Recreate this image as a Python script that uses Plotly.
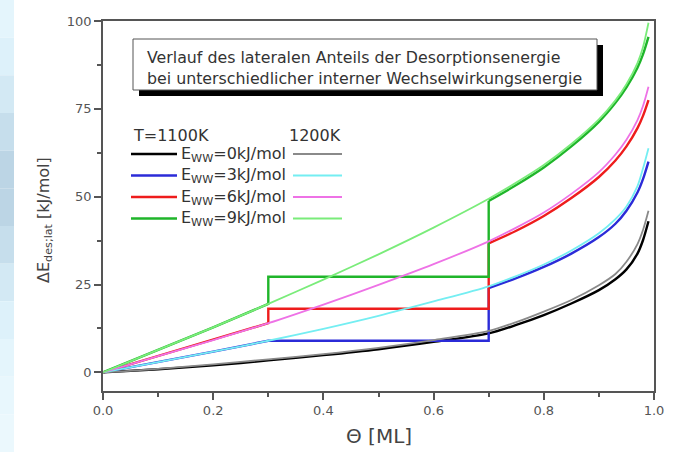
import plotly.graph_objects as go

# ---------------- data ----------------
theta_1200 = [0, 0.1, 0.2, 0.3, 0.4, 0.5, 0.6, 0.7, 0.75, 0.8, 0.85, 0.9, 0.93, 0.95, 0.97, 0.98, 0.99]
e0_1200 = [0, 1.0, 2.3, 3.7, 5.2, 7.0, 9.2, 11.8, 14.3, 17.3, 20.6, 24.8, 28.0, 31.5, 36.5, 40.5, 46.0]
e3_1200 = [0, 2.9, 5.9, 9.0, 12.4, 16.1, 20.2, 24.5, 27.4, 30.7, 34.7, 39.6, 43.6, 47.2, 53.0, 58.0, 63.8]
e6_1200 = [0, 4.6, 9.2, 14.0, 19.3, 24.9, 30.8, 37.3, 41.2, 45.5, 50.8, 57.0, 62.0, 66.2, 71.8, 75.8, 81.3]
e9_1200 = [0, 6.4, 12.8, 19.5, 26.4, 33.6, 41.2, 49.4, 54.0, 59.0, 65.0, 72.0, 77.4, 82.0, 88.0, 92.5, 99.5]

theta_0_1100 = [0, 0.1, 0.2, 0.3, 0.4, 0.5, 0.6, 0.7, 0.75, 0.8, 0.85, 0.9, 0.93, 0.95, 0.97, 0.98, 0.99]
e0_1100 = [0, 0.9, 2.0, 3.4, 4.9, 6.6, 8.7, 11.1, 13.5, 16.3, 19.6, 23.4, 26.5, 29.3, 33.8, 37.6, 43.0]

theta_3_1100 = [0, 0.1, 0.2, 0.3, 0.7, 0.7, 0.75, 0.8, 0.85, 0.9, 0.93, 0.95, 0.97, 0.98, 0.99]
e3_1100 = [0, 2.9, 5.9, 9.0, 9.0, 24.0, 26.8, 30.0, 33.8, 38.5, 42.3, 46.0, 51.2, 55.0, 60.0]

theta_6_1100 = [0, 0.1, 0.2, 0.3, 0.3, 0.7, 0.7, 0.75, 0.8, 0.85, 0.9, 0.93, 0.95, 0.97, 0.98, 0.99]
e6_1100 = [0, 4.6, 9.2, 14.0, 18.1, 18.1, 36.7, 40.3, 44.5, 49.6, 55.6, 60.3, 64.3, 69.5, 73.0, 77.5]

theta_9_1100 = [0, 0.1, 0.2, 0.3, 0.3, 0.7, 0.7, 0.75, 0.8, 0.85, 0.9, 0.93, 0.95, 0.97, 0.98, 0.99]
e9_1100 = [0, 6.4, 12.8, 19.5, 27.2, 27.2, 48.8, 53.3, 58.3, 64.3, 71.3, 76.7, 81.1, 86.7, 90.5, 95.5]

legend_labels = ["0", "3", "6", "9"]
x_ticks = [0.0, 0.2, 0.4, 0.6, 0.8, 1.0]
y_ticks = [0, 25, 50, 75, 100]

# ---------------- styles ----------------
FONT = "DejaVu Sans"
dark_cols = ["#000000", "#2b2bd8", "#ee1c1c", "#1fb52a"]
light_cols = ["#8a8a8a", "#74eef2", "#ee72e6", "#7aec7a"]

L, R, T, B = 103, 21, 21, 61
W, H = 675, 452
PW, PH = W - L - R, H - T - B


def px(x):
    return (x - L) / PW


def py(y):
    return (H - B - y) / PH


fig = go.Figure()

dark_series = [(theta_0_1100, e0_1100), (theta_3_1100, e3_1100),
               (theta_6_1100, e6_1100), (theta_9_1100, e9_1100)]
light_series = [e0_1200, e3_1200, e6_1200, e9_1200]

for (tx, ty), c in zip(dark_series, dark_cols):
    # index where the smooth tail begins (top of the last vertical step, if any)
    k = 0
    for i in range(1, len(tx)):
        if tx[i] == tx[i - 1]:
            k = i
    if k > 0:
        fig.add_trace(go.Scatter(x=tx[:k + 1], y=ty[:k + 1], mode="lines",
                                 line=dict(color=c, width=2.4), showlegend=False,
                                 hoverinfo="skip"))
    fig.add_trace(go.Scatter(x=tx[k:], y=ty[k:], mode="lines",
                             line=dict(color=c, width=2.4, shape="spline", smoothing=0.8),
                             showlegend=False, hoverinfo="skip"))
for ty, c in zip(light_series, light_cols):
    fig.add_trace(go.Scatter(x=theta_1200, y=ty, mode="lines",
                             line=dict(color=c, width=1.8, shape="spline", smoothing=0.8),
                             showlegend=False, hoverinfo="skip"))

shapes = []
annotations = []

# left decorative blue strip
strip_cols = ["#e4f5fc", "#ddf1fa", "#d3e9f4", "#c6deec", "#bcd5e5", "#bcd5e5",
              "#c6deec", "#d3e9f4", "#ddf1fa", "#e4f5fc", "#e8f7fd", "#ebf8fd"]
n = len(strip_cols)
for i, c in enumerate(strip_cols):
    shapes.append(dict(type="rect", xref="paper", yref="paper",
                       x0=px(0), x1=px(14), y0=py(i * H / n), y1=py((i + 1) * H / n),
                       fillcolor=c, line=dict(width=0), layer="below"))

# text box with shadow
shapes.append(dict(type="rect", xref="paper", yref="paper",
                   x0=px(139), x1=px(603), y0=py(96), y1=py(45),
                   fillcolor="#000000", line=dict(width=0)))
shapes.append(dict(type="rect", xref="paper", yref="paper",
                   x0=px(133), x1=px(597), y0=py(90), y1=py(39),
                   fillcolor="#ffffff", line=dict(color="#555555", width=1)))
annotations.append(dict(xref="paper", yref="paper", x=px(145), y=py(57),
                        xanchor="left", yanchor="middle", showarrow=False,
                        text="Verlauf des lateralen Anteils der Desorptionsenergie",
                        font=dict(family=FONT, size=15.8, color="#333333")))
annotations.append(dict(xref="paper", yref="paper", x=px(145), y=py(78),
                        xanchor="left", yanchor="middle", showarrow=False,
                        text="bei unterschiedlicher interner Wechselwirkungsenergie",
                        font=dict(family=FONT, size=15.8, color="#333333")))

# manual legend
annotations.append(dict(xref="paper", yref="paper", x=px(131), y=py(135),
                        xanchor="left", yanchor="middle", showarrow=False,
                        text="T=1100K", font=dict(family=FONT, size=16, color="#333333")))
annotations.append(dict(xref="paper", yref="paper", x=px(343), y=py(135),
                        xanchor="right", yanchor="middle", showarrow=False,
                        text="1200K", font=dict(family=FONT, size=16, color="#333333")))
row_y = [154, 175.5, 197, 218.5]
for lab, yy, dc, lc in zip(legend_labels, row_y, dark_cols, light_cols):
    shapes.append(dict(type="line", xref="paper", yref="paper",
                       x0=px(131), x1=px(177), y0=py(yy), y1=py(yy),
                       line=dict(color=dc, width=2.4)))
    shapes.append(dict(type="line", xref="paper", yref="paper",
                       x0=px(293), x1=px(342), y0=py(yy), y1=py(yy),
                       line=dict(color=lc, width=1.8)))
    annotations.append(dict(xref="paper", yref="paper", x=px(179), y=py(yy),
                            xanchor="left", yanchor="middle", showarrow=False,
                            text="E<sub>WW</sub>=" + lab + "kJ/mol",
                            font=dict(family=FONT, size=16, color="#333333")))

# axis titles
annotations.append(dict(xref="paper", yref="paper", x=px(44), y=py(220),
                        xanchor="center", yanchor="middle", showarrow=False,
                        textangle=-90,
                        text="ΔE<sub>des;lat</sub> [kJ/mol]",
                        font=dict(family=FONT, size=16, color="#444444")))
annotations.append(dict(xref="paper", yref="paper", x=px(379), y=py(436),
                        xanchor="center", yanchor="middle", showarrow=False,
                        text="Θ [ML]",
                        font=dict(family=FONT, size=20, color="#444444")))

axis_common = dict(showgrid=False, zeroline=False, showline=True, mirror=True,
                   linecolor="#555555", linewidth=1.5, ticks="outside",
                   tickcolor="#555555", tickwidth=1.5, ticklen=7,
                   tickfont=dict(family=FONT, size=13, color="#555555"))

fig.update_layout(
    width=W, height=H,
    margin=dict(l=L, r=R, t=T, b=B, autoexpand=False),
    paper_bgcolor="#ffffff", plot_bgcolor="#ffffff",
    showlegend=False,
    xaxis=dict(range=[0, 1], tickvals=x_ticks, ticktext=[f"{v:.1f}" for v in x_ticks],
               minor=dict(dtick=0.1, tick0=0, ticks="outside", ticklen=4,
                          tickcolor="#555555", tickwidth=1.5),
               **axis_common),
    yaxis=dict(range=[-5.3, 100], tickvals=y_ticks,
               minor=dict(dtick=12.5, tick0=0, ticks="outside", ticklen=4,
                          tickcolor="#555555", tickwidth=1.5),
               **axis_common),
    shapes=shapes,
    annotations=annotations,
)

fig.write_html("out.html", config={"displayModeBar": False},
               post_script="document.body.style.margin='0';document.body.style.overflow='hidden';")
